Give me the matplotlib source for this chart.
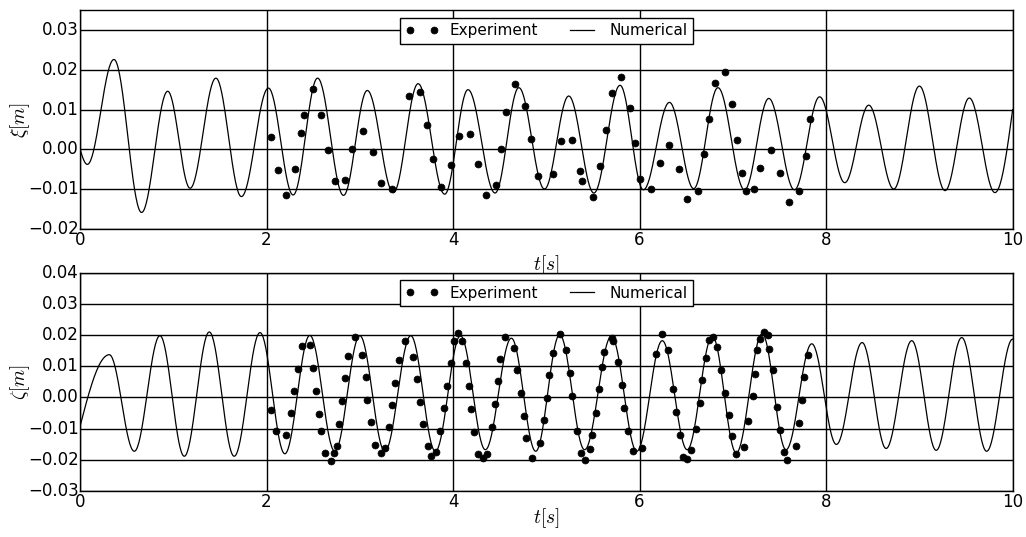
import numpy as np
import matplotlib
matplotlib.use('Agg')
import matplotlib.pyplot as plt
from matplotlib.ticker import FuncFormatter

# numerical surge response xi: start point, turning points, end point
xi_num_t = [0.0, 0.078, 0.364, 0.66, 0.94, 1.18, 1.457, 1.73, 2.02, 2.285, 2.547, 2.825,
            3.08, 3.36, 3.625, 3.91, 4.16, 4.45, 4.705, 4.98, 5.24, 5.51, 5.79, 6.04,
            6.32, 6.58, 6.84, 7.125, 7.385, 7.66, 7.93, 8.20, 8.457, 8.725, 9.0, 9.275,
            9.535, 9.81, 10.0]
xi_num_v = [0.0, -0.0038, 0.0226, -0.0159, 0.0146, -0.0098, 0.0179, -0.0119, 0.0154, -0.0115,
            0.0179, -0.0116, 0.0148, -0.0109, 0.0165, -0.0113, 0.0150, -0.0110, 0.0155, -0.0100,
            0.0134, -0.0110, 0.0161, -0.0102, 0.0118, -0.0099, 0.0155, -0.0102, 0.0128, -0.0102,
            0.0132, -0.0084, 0.0111, -0.0100, 0.0159, -0.0104, 0.0129, -0.0109, 0.0100]

# measured surge
xi_exp_t = [2.043, 2.118, 2.21, 2.30, 2.365, 2.40, 2.493, 2.585, 2.654, 2.73, 2.836, 2.92,
            3.036, 3.143, 3.232, 3.35, 3.529, 3.643, 3.72, 3.786, 3.875, 3.98, 4.064, 4.18,
            4.27, 4.35, 4.457, 4.518, 4.571, 4.668, 4.771, 4.84, 4.91, 5.07, 5.154, 5.27,
            5.365, 5.386, 5.50, 5.579, 5.643, 5.70, 5.804, 5.893, 5.954, 6.007, 6.118, 6.214,
            6.32, 6.42, 6.51, 6.625, 6.686, 6.743, 6.807, 6.918, 6.986, 7.046, 7.10, 7.143,
            7.225, 7.29, 7.41, 7.51, 7.597, 7.714, 7.779, 7.832]
xi_exp_v = [0.0030, -0.0053, -0.0114, -0.0049, 0.0042, 0.0087, 0.0152, 0.0086, -0.0003, -0.0081,
            -0.0077, 0.0001, 0.0046, -0.0008, -0.0085, -0.0099, 0.0135, 0.0144, 0.0062, -0.0024,
            -0.0094, -0.0040, 0.0033, 0.0038, -0.0037, -0.0114, -0.0089, 0.0000, 0.0094, 0.0164,
            0.0110, 0.0025, -0.0066, -0.0062, 0.0020, 0.0024, -0.0054, -0.0079, -0.0119, -0.0042,
            0.0048, 0.0142, 0.0183, 0.0105, 0.0015, -0.0074, -0.0099, -0.0034, 0.0011, -0.0050,
            -0.0125, -0.0104, -0.0013, 0.0077, 0.0166, 0.0195, 0.0113, 0.0023, -0.0059, -0.0104,
            -0.0099, -0.0046, -0.0002, -0.0059, -0.0133, -0.0104, -0.0018, 0.0076]

# numerical heave response zeta: start point, turning points
zeta_num_t = [0.0, 0.314, 0.582, 0.857, 1.118, 1.386, 1.653, 1.93, 2.196, 2.464, 2.732,
              3.0, 3.268, 3.546, 3.81, 4.079, 4.346, 4.625, 4.886, 5.143, 5.41, 5.697,
              5.97, 6.243, 6.51, 6.78, 7.036, 7.314, 7.57, 7.846, 8.11, 8.386, 8.643,
              8.918, 9.18, 9.454, 9.721, 10.0]
zeta_num_v = [-0.0093, 0.0137, -0.0173, 0.0198, -0.0189, 0.0210, -0.0189, 0.0208, -0.0181,
              0.0199, -0.0173, 0.0198, -0.0173, 0.0198, -0.0173, 0.0198, -0.0168, 0.0190,
              -0.0173, 0.0201, -0.0168, 0.0196, -0.0173, 0.0182, -0.0168, 0.0196, -0.0178,
              0.0204, -0.0168, 0.0172, -0.0151, 0.0176, -0.0164, 0.0182, -0.0170, 0.0192,
              -0.0173, 0.0187]

# measured heave
zeta_exp_t = [2.043, 2.104, 2.207, 2.257, 2.293, 2.332, 2.379, 2.464, 2.50, 2.532, 2.564,
              2.589, 2.632, 2.686, 2.721, 2.75, 2.779, 2.811, 2.846, 2.875, 2.946, 3.025,
              3.061, 3.082, 3.125, 3.168, 3.225, 3.268, 3.311, 3.35, 3.382, 3.421, 3.489,
              3.571, 3.611, 3.643, 3.679, 3.732, 3.761, 3.814, 3.864, 3.904, 3.939, 3.975,
              4.007, 4.05, 4.093, 4.136, 4.168, 4.189, 4.225, 4.268, 4.322, 4.368, 4.421,
              4.45, 4.479, 4.507, 4.561, 4.65, 4.689, 4.725, 4.757, 4.779, 4.85, 4.936,
              4.971, 5.007, 5.029, 5.07, 5.143, 5.214, 5.25, 5.275, 5.332, 5.375, 5.418,
              5.464, 5.493, 5.529, 5.561, 5.593, 5.621, 5.70, 5.718, 5.764, 5.807, 5.832,
              5.871, 5.929, 6.029, 6.179, 6.243, 6.307, 6.357, 6.386, 6.429, 6.464, 6.507,
              6.554, 6.60, 6.643, 6.668, 6.711, 6.743, 6.782, 6.832, 6.871, 6.911, 6.954,
              6.986, 7.029, 7.118, 7.164, 7.211, 7.236, 7.261, 7.293, 7.332, 7.375, 7.386,
              7.429, 7.471, 7.50, 7.55, 7.582, 7.675, 7.714, 7.739, 7.761, 7.804]
zeta_exp_v = [-0.0042, -0.0107, -0.0122, -0.0050, 0.0022, 0.0092, 0.0164, 0.0167, 0.0094,
              0.0019, -0.0053, -0.0107, -0.0178, -0.0203, -0.0178, -0.0155, -0.0084, -0.0012,
              0.0061, 0.0133, 0.0194, 0.0136, 0.0064, -0.0007, -0.0080, -0.0152, -0.0179,
              -0.0164, -0.0095, -0.0026, 0.0046, 0.0119, 0.0182, 0.0130, 0.0059, -0.0014,
              -0.0087, -0.0155, -0.0189, -0.0176, -0.0107, -0.0034, 0.0038, 0.0109, 0.0182,
              0.0208, 0.0182, 0.0109, 0.0038, -0.0037, -0.0110, -0.0181, -0.0196, -0.0181,
              -0.0094, -0.0022, 0.0054, 0.0124, 0.0194, 0.0158, 0.0087, 0.0014, -0.0061,
              -0.0131, -0.0194, -0.0146, -0.0074, -0.0001, 0.0071, 0.0143, 0.0204, 0.0152,
              0.0079, 0.0004, -0.0108, -0.0178, -0.0200, -0.0166, -0.0122, -0.0050, 0.0027,
              0.0097, 0.0146, 0.0192, 0.0182, 0.0112, 0.0041, -0.0034, -0.0107, -0.0173,
              -0.0164, 0.0140, 0.0203, 0.0152, 0.0027, -0.0047, -0.0122, -0.0191, -0.0197,
              -0.0168, -0.0101, -0.0017, 0.0057, 0.0127, 0.0185, 0.0194, 0.0163, 0.0089,
              0.0015, -0.0055, -0.0125, -0.0181, -0.0160, -0.0077, 0.0003, 0.0076, 0.0152,
              0.0187, 0.0209, 0.0201, 0.0155, 0.0087, -0.0031, -0.0104, -0.0176, -0.0200,
              -0.0155, -0.0082, -0.0007, 0.0065, 0.0137]


def smooth_through(t_pts, v_pts, start_turn=False, end_turn=False, n=40):
    # join the read points with cosine shaped pieces (flat at turning points)
    ts, vs = [], []
    last = len(t_pts) - 2
    s = np.linspace(0, 1, n)
    for i in range(len(t_pts) - 1):
        if i == 0 and not start_turn:
            w = np.sin(np.pi / 2 * s)
        elif i == last and not end_turn:
            w = 1 - np.cos(np.pi / 2 * s)
        else:
            w = (1 - np.cos(np.pi * s)) / 2
        ts.append(t_pts[i] + (t_pts[i + 1] - t_pts[i]) * s)
        vs.append(v_pts[i] + (v_pts[i + 1] - v_pts[i]) * w)
    return np.concatenate(ts), np.concatenate(vs)


plt.style.use('classic')
plt.rcParams['figure.facecolor'] = 'white'
plt.rcParams['savefig.facecolor'] = 'white'
plt.rcParams['font.size'] = 12
plt.rcParams['xtick.major.pad'] = 1.5
plt.rcParams['ytick.major.pad'] = 0.8

fig = plt.figure(figsize=(10.26, 5.37), dpi=100)
ax1 = fig.add_axes([0.078, 0.574, 0.909, 0.407])
ax2 = fig.add_axes([0.078, 0.086, 0.909, 0.406])

minus_fmt = FuncFormatter(lambda v, pos: ('%.2f' % v).replace('-', '\u2212'))

panels = [
    (ax1, xi_num_t, xi_num_v, xi_exp_t, xi_exp_v, False, r'$\xi[m]$', (-0.02, 0.035), 3),
    (ax2, zeta_num_t, zeta_num_v, zeta_exp_t, zeta_exp_v, True, r'$\zeta[m]$', (-0.03, 0.04), -3.5),
]

for ax, nt, nv, et, ev, end_turn, ylab, ylim, xpad in panels:
    tt, vv = smooth_through(nt, nv, end_turn=end_turn)
    ax.plot(et, ev, 'ko', markersize=5, label='Experiment')
    ax.plot(tt, vv, 'k-', linewidth=0.9, label='Numerical')
    ax.set_xlim(0, 10)
    ax.set_ylim(*ylim)
    ax.set_xticks([0, 2, 4, 6, 8, 10])
    ax.set_yticks(np.arange(ylim[0], ylim[1] + 1e-9, 0.01))
    ax.yaxis.set_major_formatter(minus_fmt)
    ax.grid(True, linestyle='-', color='k', linewidth=1)
    ax.set_axisbelow(True)
    ax.set_xlabel(r'$t[s]$', fontsize=14, labelpad=xpad)
    ax.set_ylabel(ylab, fontsize=14, labelpad=-2.5)
    ax.legend(loc='upper center', ncol=2, fontsize=11, borderaxespad=0.5,
              handlelength=2.2, handletextpad=0.7, columnspacing=1.8,
              borderpad=0.35)

fig.savefig('out.png', dpi=100)
